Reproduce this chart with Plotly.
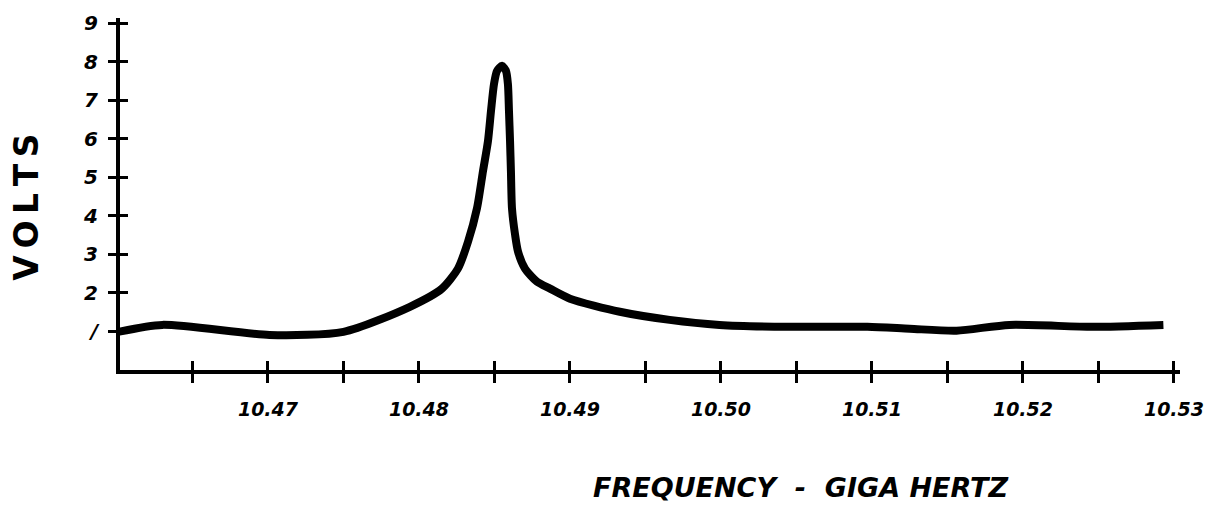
import plotly.graph_objects as go

freq_ghz = [10.4601, 10.4630, 10.4701, 10.4750, 10.4794, 10.48152, 10.48258,
            10.48325, 10.48384, 10.48424, 10.48457, 10.48477, 10.48497, 10.48517,
            10.48550, 10.48576, 10.48589, 10.48596, 10.48603, 10.48609, 10.48616,
            10.48636, 10.48656, 10.48702, 10.48781, 10.48868, 10.4900, 10.4933,
            10.4966, 10.4999, 10.5044, 10.5097, 10.5125, 10.5156, 10.5191,
            10.5246, 10.5293]
volts = [0.99, 1.17, 0.91, 0.99, 1.64, 2.11, 2.63,
         3.33, 4.19, 5.16, 5.94, 6.72, 7.42, 7.76,
         7.89, 7.76, 7.42, 6.72, 5.94, 5.16, 4.19,
         3.52, 3.07, 2.63, 2.29, 2.11, 1.85, 1.51,
         1.30, 1.17, 1.12, 1.12, 1.07, 1.02, 1.17,
         1.12, 1.17]

x_tickvals = [10.465, 10.470, 10.475, 10.480, 10.485, 10.490, 10.495, 10.500,
              10.505, 10.510, 10.515, 10.520, 10.525, 10.530]
x_ticktext = ["", "10.47", "", "10.48", "", "10.49", "", "10.50",
              "", "10.51", "", "10.52", "", "10.53"]
y_tickvals = [1, 2, 3, 4, 5, 6, 7, 8, 9]
y_ticktext = ["/", "2", "3", "4", "5", "6", "7", "8", "9"]
x_title = "FREQUENCY  -  GIGA HERTZ"
y_title = "V\u2009O\u2009L\u2009T\u2009S"

x_range = [10.4602, 10.5304]
y_range = [0, 9.13]

hand = dict(family="DejaVu Sans", color="black", weight="bold", style="italic")

fig = go.Figure()
fig.add_trace(go.Scatter(x=freq_ghz, y=volts, mode="lines",
                         line=dict(color="black", width=8, shape="spline", smoothing=0.7),
                         hoverinfo="skip", showlegend=False))
# helper trace so overlay axes (inner half of crossing ticks) are drawn
fig.add_trace(go.Scatter(x=[freq_ghz[0]], y=[volts[0]], xaxis="x2", yaxis="y2",
                         mode="markers", marker=dict(opacity=0), showlegend=False,
                         hoverinfo="skip"))

fig.update_layout(
    width=1231, height=510,
    margin=dict(l=112, r=59, t=10, b=148, autoexpand=False),
    paper_bgcolor="white", plot_bgcolor="white",
    xaxis=dict(range=x_range, tickvals=x_tickvals, ticktext=x_ticktext,
               showline=True, linewidth=4, linecolor="black",
               ticks="outside", ticklen=9, tickwidth=3, tickcolor="black",
               showgrid=False, zeroline=False, ticklabelstandoff=10,
               tickfont=dict(size=19, **hand)),
    yaxis=dict(range=y_range, tickvals=y_tickvals, ticktext=y_ticktext,
               showline=True, linewidth=4, linecolor="black",
               ticks="outside", ticklen=8, tickwidth=3, tickcolor="black",
               showgrid=False, zeroline=False, ticklabelstandoff=6,
               tickfont=dict(size=20, **hand)),
    xaxis2=dict(range=x_range, overlaying="x", anchor="y", side="bottom",
                tickvals=x_tickvals, showticklabels=False, showline=False,
                ticks="inside", ticklen=9, tickwidth=3, tickcolor="black",
                showgrid=False, zeroline=False),
    yaxis2=dict(range=y_range, overlaying="y", anchor="x", side="left",
                tickvals=y_tickvals, showticklabels=False, showline=False,
                ticks="inside", ticklen=8, tickwidth=3, tickcolor="black",
                showgrid=False, zeroline=False),
    annotations=[
        dict(text=x_title, xref="paper", yref="paper", x=0.642, y=-0.335,
             xanchor="center", yanchor="middle", showarrow=False,
             font=dict(size=27, **hand)),
        dict(text=y_title, xref="paper", yref="paper", x=-0.089, y=0.463,
             xanchor="center", yanchor="middle", showarrow=False, textangle=-90,
             font=dict(size=33, family="DejaVu Sans", color="black", weight="bold")),
    ],
)

fig.write_html("out.html")
